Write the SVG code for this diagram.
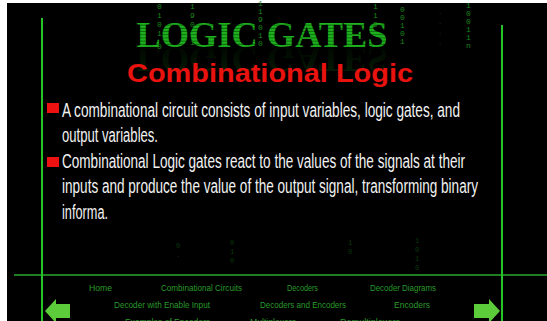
<svg xmlns="http://www.w3.org/2000/svg" width="547" height="321" viewBox="0 0 547 321">
  <defs>
    <style>
      .rule { stroke: #27c427; stroke-width: 2; }
      .hrule { stroke: url(#hfade); stroke-width: 1.5; }
      .bits { font-family: "Liberation Mono", monospace; font-size: 8px; fill: #1b861b; }
      .bits-faint { font-family: "Liberation Mono", monospace; font-size: 7px; fill: #0c3a0e; }
      .body { font-family: "Liberation Sans", Arial, sans-serif; font-size: 20px; fill: #f2f2f2; }
      .nav { font-family: "Liberation Sans", Arial, sans-serif; font-size: 9.5px; fill: #2a9a2a; }
      .bullet { fill: #ee1111; }
      .arrow { fill: #5ccc3a; }
    </style>
    <linearGradient id="hfade" x1="0" y1="0" x2="1" y2="0">
      <stop offset="0" stop-color="#4a8a4a" stop-opacity="0"/>
      <stop offset="0.08" stop-color="#4c9a4c"/>
      <stop offset="0.92" stop-color="#4c9a4c"/>
      <stop offset="1" stop-color="#4a8a4a" stop-opacity="0"/>
    </linearGradient>
    <pattern id="stripes" x="0" y="0" width="10" height="3.2" patternUnits="userSpaceOnUse">
      <rect width="10" height="3.2" fill="#1fb21f"/>
      <rect y="2.2" width="10" height="1" fill="#0c6a0c"/>
    </pattern>
    <linearGradient id="reflect" x1="0" y1="0" x2="0" y2="1">
      <stop offset="0" stop-color="#1a8a1a" stop-opacity="0.45"/>
      <stop offset="1" stop-color="#1a8a1a" stop-opacity="0"/>
    </linearGradient>
  </defs>

  <!-- page -->
  <rect width="547" height="321" fill="#ffffff"/>
  <rect x="7" y="3" width="540" height="318" fill="#000000"/>

  <!-- falling binary columns behind the heading -->
  <g id="binary-rain">
    <text class="bits" x="157" y="9">0<tspan x="157" dy="9">1</tspan><tspan x="157" dy="9">0</tspan><tspan x="157" dy="9">1</tspan><tspan x="157" dy="13">0</tspan></text>
    <text class="bits" x="190" y="9">1<tspan x="190" dy="9">9</tspan><tspan x="190" dy="9">0</tspan><tspan x="190" dy="9">0</tspan><tspan x="190" dy="9">1</tspan></text>
    <text class="bits" x="258" y="6">1<tspan x="258" dy="8">1</tspan><tspan x="258" dy="8">9</tspan><tspan x="258" dy="8">0</tspan><tspan x="258" dy="8">1</tspan><tspan x="258" dy="8">0</tspan></text>
    <text class="bits" x="373" y="9">1<tspan x="373" dy="9">1</tspan><tspan x="373" dy="9">9</tspan><tspan x="373" dy="9">1</tspan></text>
    <text class="bits" x="400" y="12">0<tspan x="400" dy="8">0</tspan><tspan x="400" dy="8">1</tspan><tspan x="400" dy="8">0</tspan><tspan x="400" dy="8">1</tspan></text>
    <text class="bits-faint" x="438" y="14">.<tspan x="438" dy="10">.</tspan><tspan x="438" dy="10">.</tspan><tspan x="438" dy="10">.</tspan></text>
    <text class="bits" x="466" y="8">1<tspan x="466" dy="8">0</tspan><tspan x="466" dy="8">0</tspan><tspan x="466" dy="8">1</tspan><tspan x="466" dy="8">1</tspan><tspan x="466" dy="8">n</tspan></text>
    <text class="bits-faint" x="230" y="245">0<tspan x="230" dy="9">1</tspan><tspan x="230" dy="9">0</tspan></text>
    <text class="bits-faint" x="176" y="248">0<tspan x="176" dy="9">.</tspan></text>
    <text class="bits-faint" x="348" y="245">1<tspan x="348" dy="9">0</tspan></text>
    <text class="bits-faint" x="415" y="243">1<tspan x="415" dy="9">0</tspan><tspan x="415" dy="9">1</tspan><tspan x="415" dy="9">0</tspan></text>
  </g>

  <!-- heading with a faint mirrored reflection -->
  <g id="heading">
    <text x="262" y="47" text-anchor="middle" font-family="Liberation Serif, serif" font-weight="bold" font-size="36" fill="url(#stripes)" textLength="251" lengthAdjust="spacingAndGlyphs">LOGIC GATES</text>
    <text x="262" y="47" text-anchor="middle" font-family="Liberation Serif, serif" font-weight="bold" font-size="36" fill="url(#reflect)" textLength="251" lengthAdjust="spacingAndGlyphs" transform="translate(0 94) scale(1 -1)" opacity="0.5">LOGIC GATES</text>
  </g>

  <!-- frame rules -->
  <g id="frame">
    <line class="hrule" x1="22" y1="52.5" x2="526" y2="52.5"/>
    <line x1="14" y1="275" x2="547" y2="275" stroke="#2aa82a" stroke-width="1.5"/>
    <line class="rule" x1="42" y1="18" x2="42" y2="321"/>
    <line class="rule" x1="502" y1="25" x2="502" y2="321"/>
  </g>

  <!-- slide title -->
  <g id="title">
    <text x="270" y="82" text-anchor="middle" font-family="Liberation Sans, Arial, sans-serif" font-weight="bold" font-size="26" fill="#e8120f" textLength="286" lengthAdjust="spacingAndGlyphs">Combinational Logic</text>
  </g>

  <!-- bullet points -->
  <g id="bullets">
    <rect class="bullet" x="47" y="103" width="12" height="10"/>
    <text class="body" x="62" y="117" textLength="398" lengthAdjust="spacingAndGlyphs">A combinational circuit consists of input variables, logic gates, and</text>
    <text class="body" x="62" y="142" textLength="96" lengthAdjust="spacingAndGlyphs">output variables.</text>
    <rect class="bullet" x="47" y="157" width="12" height="10"/>
    <text class="body" x="62" y="168" textLength="403" lengthAdjust="spacingAndGlyphs">Combinational Logic gates react to the values of the signals at their</text>
    <text class="body" x="62" y="193" textLength="416" lengthAdjust="spacingAndGlyphs">inputs and produce the value of the output signal, transforming binary</text>
    <text class="body" x="62" y="219" textLength="46" lengthAdjust="spacingAndGlyphs">informa.</text>
  </g>

  <!-- navigation links -->
  <g id="nav">
    <text class="nav" x="89" y="291" textLength="23" lengthAdjust="spacingAndGlyphs">Home</text>
    <text class="nav" x="161" y="291" textLength="81" lengthAdjust="spacingAndGlyphs">Combinational Circuits</text>
    <text class="nav" x="287" y="291" textLength="31" lengthAdjust="spacingAndGlyphs">Decoders</text>
    <text class="nav" x="370" y="291" textLength="66" lengthAdjust="spacingAndGlyphs">Decoder Diagrams</text>
    <text class="nav" x="114" y="308" textLength="96" lengthAdjust="spacingAndGlyphs">Decoder with Enable Input</text>
    <text class="nav" x="260" y="308" textLength="86" lengthAdjust="spacingAndGlyphs">Decoders and Encoders</text>
    <text class="nav" x="394" y="308" textLength="36" lengthAdjust="spacingAndGlyphs">Encoders</text>
    <text class="nav" x="125" y="325" textLength="85" lengthAdjust="spacingAndGlyphs">Examples of Encoders</text>
    <text class="nav" x="250" y="325" textLength="46" lengthAdjust="spacingAndGlyphs">Multiplexers</text>
    <text class="nav" x="340" y="325" textLength="60" lengthAdjust="spacingAndGlyphs">Demultiplexers</text>
  </g>

  <!-- previous / next arrows -->
  <g id="arrow-prev">
    <polygon class="arrow" points="45,311 56,299 56,304 70,304 70,318 56,318 56,323"/>
  </g>
  <g id="arrow-next">
    <polygon class="arrow" points="500,311 489,299 489,304 474,304 474,318 489,318 489,323"/>
  </g>
</svg>
